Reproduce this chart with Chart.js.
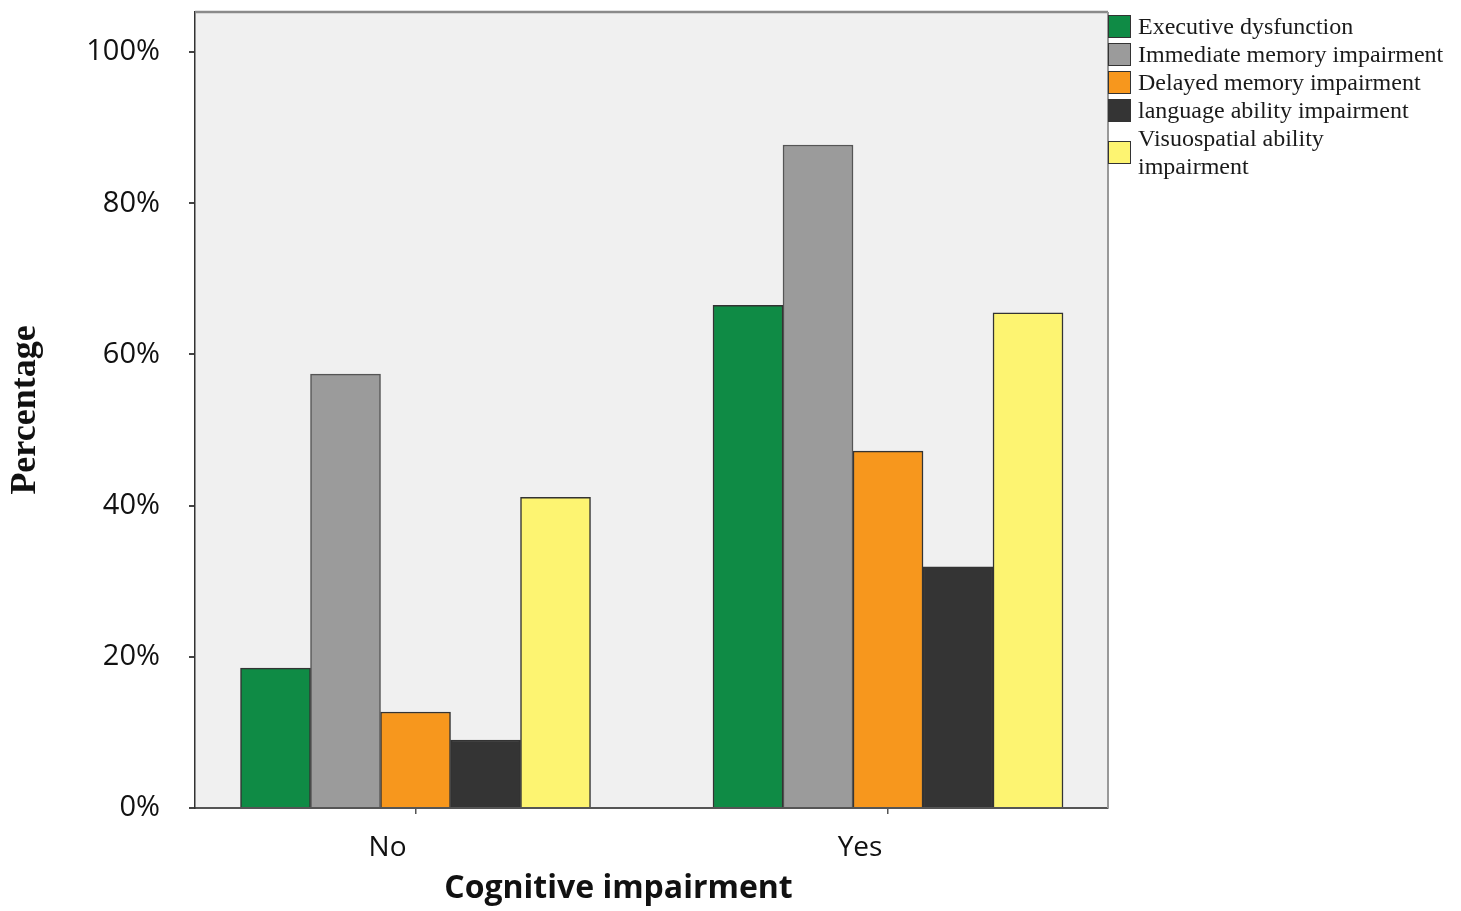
<!DOCTYPE html>
<html lang="en">
<head>
    <meta charset="UTF-8">
    <title>Cognitive impairment by domain</title>
    <script src="https://cdn.jsdelivr.net/npm/chart.js@4.4.0/dist/chart.umd.min.js"></script>
    <style>
        html, body {
            margin: 0;
            padding: 0;
            background: #ffffff;
        }
        .wrap {
            position: relative;
            width: 1461px;
            height: 911px;
        }
        #legend {
            position: absolute;
            left: 1108px;
            top: 12px;
            font-family: 'Liberation Serif', 'Times New Roman', serif;
            font-size: 24px;
            line-height: 28px;
            color: #1a1a1a;
        }
        .legend-item {
            display: flex;
            align-items: center;
        }
        .legend-box {
            width: 21px;
            height: 21px;
            border: 1.5px solid #333;
            margin-right: 7px;
            flex: none;
        }
    </style>
</head>
<body>
<div class="wrap">
    <canvas id="chart" width="1461" height="911"></canvas>
    <div id="legend"></div>
</div>

<script>
    // categories on the x axis
    const categories = ['No', 'Yes'];

    // series names and colours
    const seriesNames = [
        'Executive dysfunction',
        'Immediate memory impairment',
        'Delayed memory impairment',
        'language ability impairment',
        'Visuospatial ability impairment'
    ];
    const seriesColors = ['#0f8b45', '#9b9b9b', '#f7971d', '#343434', '#fdf471'];

    // values in percent
    const executive    = [18.5, 66.5];
    const immediate    = [57.4, 87.7];
    const delayed      = [12.7, 47.2];
    const language     = [9.0, 31.9];
    const visuospatial = [41.1, 65.5];

    const yTicks = [0, 20, 40, 60, 80, 100];

    const allValues = [executive, immediate, delayed, language, visuospatial];

    const datasets = allValues.map((vals, i) => ({
        label: seriesNames[i],
        data: vals.map((v, j) => ({ x: j, y: v })),
        backgroundColor: seriesColors[i],
        borderColor: i === 1 ? '#555' : '#333',
        borderWidth: 1.5,
        barThickness: 70
    }));

    // plot background and the top / right frame
    const framePlugin = {
        id: 'frame',
        beforeDraw(chart) {
            const { ctx, chartArea: a } = chart;
            ctx.save();
            ctx.fillStyle = '#f0f0f0';
            ctx.fillRect(a.left, a.top, a.right - a.left, a.bottom - a.top);
            ctx.restore();
        },
        afterDraw(chart) {
            const { ctx, chartArea: a } = chart;
            ctx.save();
            ctx.strokeStyle = '#8a8a8a';
            ctx.lineWidth = 2.5;
            ctx.beginPath();
            ctx.moveTo(a.left, a.top);
            ctx.lineTo(a.right, a.top);
            ctx.stroke();
            ctx.strokeStyle = '#999';
            ctx.lineWidth = 2;
            ctx.beginPath();
            ctx.moveTo(a.right, a.top);
            ctx.lineTo(a.right, a.bottom);
            ctx.stroke();

            // x axis title, sits a little left of centre in the original
            ctx.fillStyle = '#111';
            ctx.font = 'bold 32px "Open Sans", sans-serif';
            ctx.textAlign = 'center';
            ctx.textBaseline = 'middle';
            ctx.fillText('Cognitive impairment', (a.left + a.right) / 2 - 33, 889);
            ctx.restore();
        }
    };

    const ctx = document.getElementById('chart').getContext('2d');
    new Chart(ctx, {
        type: 'bar',
        data: { datasets: datasets },
        options: {
            responsive: false,
            animation: false,
            layout: {
                padding: { left: 0, top: 12, right: 353, bottom: 0 }
            },
            scales: {
                x: {
                    type: 'linear',
                    min: -0.4667,
                    max: 1.4656,
                    offset: false,
                    afterFit(scale) {
                        scale.height = 103;
                        scale.paddingLeft = 0;
                        scale.paddingRight = 0;
                    },
                    border: { color: '#555', width: 2 },
                    grid: {
                        offset: false,
                        drawOnChartArea: false,
                        drawTicks: true,
                        tickLength: 6,
                        color: '#555',
                        lineWidth: 1.5
                    },
                    ticks: {
                        stepSize: 1,
                        includeBounds: false,
                        padding: 17,
                        labelOffset: -28,
                        color: '#111',
                        font: { family: 'Open Sans', size: 28 },
                        callback: v => categories[v] !== undefined ? categories[v] : ''
                    }
                },
                y: {
                    min: 0,
                    max: 105.3,
                    afterFit(scale) {
                        scale.width = 195;
                        scale.paddingTop = 0;
                        scale.paddingBottom = 0;
                    },
                    afterBuildTicks(scale) {
                        scale.ticks = yTicks.map(v => ({ value: v }));
                    },
                    border: { color: '#333', width: 1.5 },
                    grid: {
                        drawOnChartArea: false,
                        drawTicks: true,
                        tickLength: 6,
                        color: '#444',
                        lineWidth: 2
                    },
                    ticks: {
                        padding: 29,
                        color: '#111',
                        font: { family: 'Open Sans', size: 29 },
                        callback: v => v + '%'
                    },
                    title: {
                        display: true,
                        text: 'Percentage',
                        color: '#111',
                        padding: { top: 4, bottom: 0 },
                        font: { family: 'Liberation Serif', size: 36, weight: 'bold' }
                    }
                }
            },
            plugins: {
                legend: { display: false },
                tooltip: { enabled: false }
            }
        },
        plugins: [framePlugin]
    });

    // legend on the right, the last label wraps onto two lines
    const legendEl = document.getElementById('legend');
    const legendLines = [
        ['Executive dysfunction'],
        ['Immediate memory impairment'],
        ['Delayed memory impairment'],
        ['language ability impairment'],
        ['Visuospatial ability', 'impairment']
    ];
    seriesNames.forEach((name, i) => {
        const item = document.createElement('div');
        item.className = 'legend-item';
        item.innerHTML = `<span class="legend-box" style="background:${seriesColors[i]}"></span>
            <span>${legendLines[i].join('<br>')}</span>`;
        legendEl.appendChild(item);
    });
</script>
</body>
</html>
